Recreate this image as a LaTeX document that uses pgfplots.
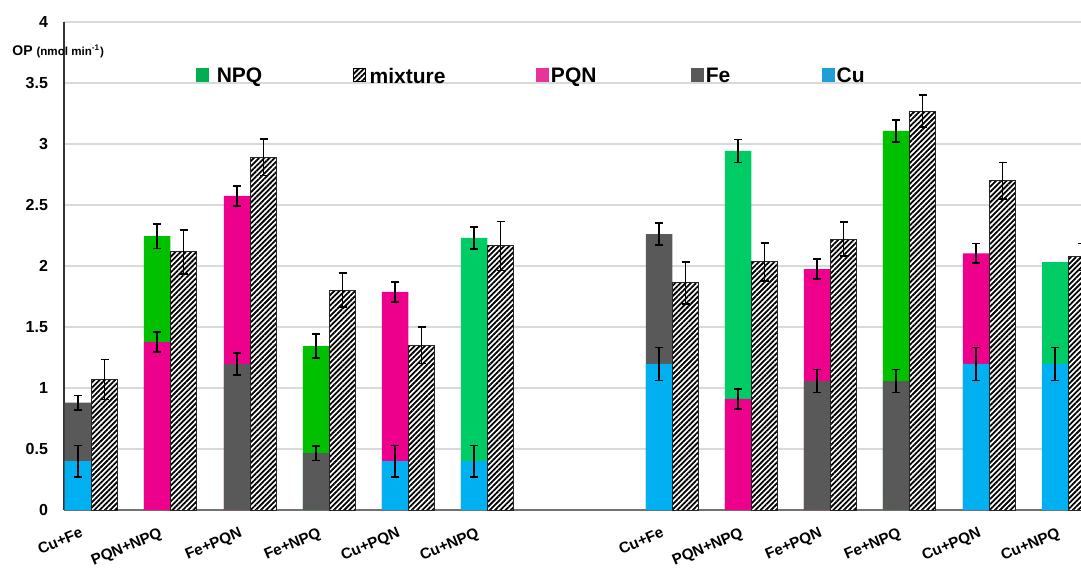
\documentclass[border=0pt]{standalone}
\usepackage{pgfplots}
\pgfplotsset{compat=1.18}
\usepackage{fontspec}
\setmainfont{Liberation Sans}
\usetikzlibrary{patterns.meta}

\definecolor{cu}{RGB}{0,176,240}
\definecolor{fe}{RGB}{89,89,89}
\definecolor{pqn}{RGB}{236,0,140}
\definecolor{npqA}{RGB}{0,192,0}
\definecolor{npqB}{RGB}{0,204,102}
\definecolor{npqleg}{RGB}{0,176,80}
\definecolor{pqnleg}{RGB}{232,51,154}
\definecolor{culeg}{RGB}{30,159,216}
\definecolor{gridc}{RGB}{217,217,217}

\pgfplotsset{
  eb/.style={error bars/.cd, y dir=both, y explicit,
    error bar style={line width=0.8pt, black},
    error mark options={rotate=90, black, line width=0.8pt, mark size=2pt}},
  stk/.style={ybar, bar width=26.5, bar shift=0pt, draw=none, forget plot},
}

\begin{document}
\begin{tikzpicture}
\useasboundingbox (-32pt,-29pt) rectangle (508.5pt,255pt);
\begin{axis}[
  scale only axis, width=508.5pt, height=244pt,
  xmin=64, xmax=1081, ymin=0, ymax=4,
  axis lines*=left,
  clip mode=individual,
  x axis line style={line width=0.8pt, color=black!55},
  y axis line style={line width=0.6pt, color=black!80},
  major tick length=0pt,
  ytick={0,0.5,1,1.5,2,2.5,3,3.5,4},
  yticklabel style={font=\bfseries\fontsize{8}{9}\selectfont, xshift=-4.5pt},
  /pgf/number format/assume math mode=true,
  ymajorgrids, grid style={line width=0.6pt, color=gridc},
  xtick={78,157,237,316,395,474,659,738,817,896,976,1055},
  xticklabels={Cu+Fe,PQN+NPQ,Fe+PQN,Fe+NPQ,Cu+PQN,Cu+NPQ,Cu+Fe,PQN+NPQ,Fe+PQN,Fe+NPQ,Cu+PQN,Cu+NPQ},
  xticklabel style={font=\bfseries\fontsize{7.6}{9}\selectfont, rotate=23, anchor=north east, yshift=-4.5pt, xshift=1pt},
  legend columns=5,
  legend style={draw=none, fill=none, at={(rel axis cs:0.1294,0.887)}, anchor=west,
    font=\bfseries\fontsize{10.5}{12}\selectfont, column sep=0pt, inner sep=0pt,
    nodes={inner sep=0pt}},
]
% legend
\addlegendimage{legend image code/.code={\fill[npqleg] (0pt,-2.3pt) rectangle (6pt,4.2pt);}}
\addlegendentry{\makebox[72.2pt][l]{\hspace{4pt}NPQ}}
\addlegendimage{legend image code/.code={\fill[white] (0pt,-2.3pt) rectangle (6pt,4.2pt);
  \fill[pattern={Lines[angle=45,distance=1.84pt,line width=0.9pt]}, pattern color=black] (0pt,-2.3pt) rectangle (6pt,4.2pt);
  \draw[line width=0.5pt] (0pt,-2.3pt) rectangle (6pt,4.2pt);}}
\addlegendentry{\makebox[85pt][l]{\hspace{1.75pt}mixture\vphantom{NPQ}}}
\addlegendimage{legend image code/.code={\fill[pqnleg] (0pt,-2.3pt) rectangle (6pt,4.2pt);}}
\addlegendentry{\makebox[71pt][l]{\hspace{1pt}PQN}}
\addlegendimage{legend image code/.code={\fill[fe] (0pt,-2.3pt) rectangle (6pt,4.2pt);}}
\addlegendentry{\makebox[59pt][l]{\hspace{1pt}Fe\vphantom{NPQ}}}
\addlegendimage{legend image code/.code={\fill[culeg] (0pt,-2.3pt) rectangle (6pt,4.2pt);}}
\addlegendentry{\hspace{1pt}Cu\vphantom{NPQ}}

% top components (full height)
\addplot[stk, fill=npqA, eb] coordinates {(157,2.245) +- (0,0.10) (316,1.344) +- (0,0.10) (896,3.107) +- (0,0.09)};
\addplot[stk, fill=npqB, eb] coordinates {(474,2.230) +- (0,0.09) (738,2.943) +- (0,0.095)};
\addplot[stk, fill=npqB] coordinates {(1055,2.033)};
\addplot[stk, fill=pqn, eb] coordinates {(237,2.574) +- (0,0.08) (395,1.787) +- (0,0.08) (817,1.975) +- (0,0.08) (976,2.104) +- (0,0.08)};
\addplot[stk, fill=fe, eb] coordinates {(78,0.88) +- (0,0.06) (659,2.262) +- (0,0.09)};
% bottom components
\addplot[stk, fill=cu, eb] coordinates {(78,0.40) +- (0,0.13) (395,0.40) +- (0,0.13) (474,0.40) +- (0,0.13) (659,1.197) +- (0,0.135) (976,1.197) +- (0,0.135) (1055,1.197) +- (0,0.135)};
\addplot[stk, fill=fe, eb] coordinates {(237,1.197) +- (0,0.09) (316,0.467) +- (0,0.06) (817,1.057) +- (0,0.095) (896,1.057) +- (0,0.095)};
\addplot[stk, fill=pqn, eb] coordinates {(157,1.377) +- (0,0.08) (738,0.91) +- (0,0.08)};
% mixture
\addplot[ybar, bar width=26.5, bar shift=0pt, forget plot, fill=white, draw=black!85, line width=0.5pt,
  postaction={pattern={Lines[angle=45,distance=1.84pt,line width=0.9pt]}, pattern color=black}, eb]
  coordinates {(104.5,1.07) +- (0,0.165) (183.5,2.115) +- (0,0.18) (263.5,2.893) +- (0,0.15) (342.5,1.803) +- (0,0.14) (421.5,1.352) +- (0,0.15) (500.5,2.164) +- (0,0.20)
   (685.5,1.861) +- (0,0.17) (764.5,2.033) +- (0,0.155) (843.5,2.221) +- (0,0.14) (922.5,3.27) +- (0,0.13) (1002.5,2.697) +- (0,0.15) (1081.5,2.074) +- (0,0.11)};
\end{axis}
\node[anchor=base west, inner sep=0pt] at (-26pt,227pt) {\bfseries\fontsize{7}{8}\selectfont OP {\fontsize{5.8}{6}\selectfont(nmol min\textsuperscript{-1})}};
\end{tikzpicture}
\end{document}
